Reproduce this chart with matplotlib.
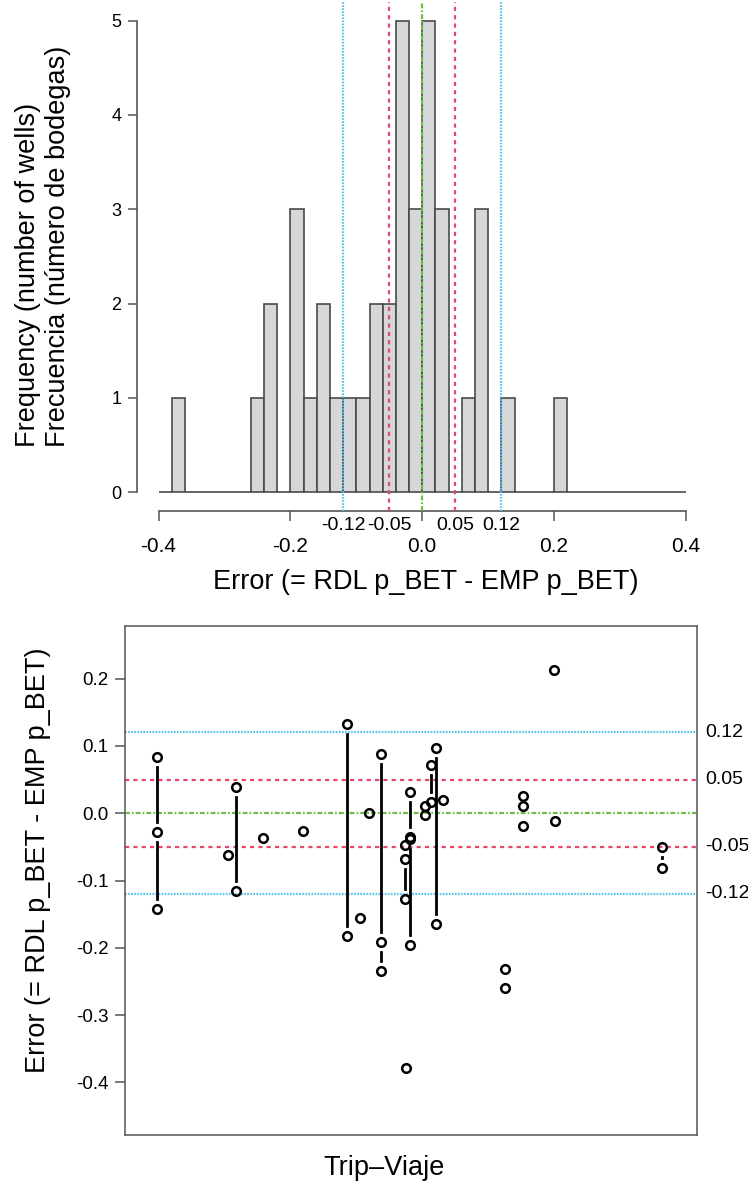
import numpy as np
import matplotlib
matplotlib.use("Agg")
import matplotlib.pyplot as plt
import matplotlib.transforms as mtransforms

plt.rcParams['font.family'] = ['Liberation Sans', 'DejaVu Sans']
plt.rcParams['axes.unicode_minus'] = False
plt.rcParams['lines.scale_dashes'] = False

# each trip: x position along the trip axis and the errors measured on it
trip_x = [5.54, 18.06, 19.41, 24.07, 31.12, 38.76, 41.14, 42.6, 44.76, 49.0, 49.07,
          49.83, 52.45, 53.44, 54.37, 55.65, 66.43, 69.53, 75.0, 75.23, 93.93]
trip_err = [
    [0.084, -0.028, -0.142],
    [-0.062],
    [0.039, -0.115],
    [-0.037],
    [-0.026],
    [0.133, -0.182],
    [-0.155],
    [0.001],
    [0.088, -0.191, -0.235],
    [-0.047, -0.068, -0.128],
    [-0.379],
    [0.031, -0.035, -0.038, -0.196],
    [0.010, -0.003],
    [0.071, 0.017],
    [0.097, -0.165],
    [0.019],
    [-0.232, -0.259],
    [0.026, 0.011, -0.019],
    [0.213],
    [-0.012],
    [-0.050, -0.082],
]

ref_vals = [-0.12, -0.05, 0.0, 0.05, 0.12]
ref_labels = ['-0.12', '-0.05', '', '0.05', '0.12']
hist_xticks = [-0.4, -0.2, 0.0, 0.2, 0.4]
hist_yticks = [0, 1, 2, 3, 4, 5]
err_yticks = [-0.4, -0.3, -0.2, -0.1, 0.0, 0.1, 0.2]

blue = '#55c3ee'
red = '#e8466a'
green = '#6cbf45'
line_style = {
    0.12: dict(color=blue, dashes=(1.2, 1.0)),
    0.05: dict(color=red, dashes=(3.0, 3.0)),
    0.0: dict(color=green, dashes=(3.5, 1.5, 1.2, 1.5)),
}

all_err = np.concatenate([np.array(e) for e in trip_err])
edges = np.round(np.arange(-0.4, 0.4001, 0.02), 2)

fig = plt.figure(figsize=(7.48, 11.85), dpi=100)

# ---- histogram
ax1 = fig.add_axes([0.1838, 0.5689, 0.7614, 0.4295])
ax1.hist(all_err, bins=edges, color='#d6d7d9', edgecolor='#4a4a4a', linewidth=1.2)
for v in ref_vals:
    st = line_style[abs(v)]
    ax1.axvline(v, lw=1.6, zorder=3, **st)
ax1.set_xlim(-0.432, 0.432)
ax1.set_ylim(-0.2, 5.2)
for s in ['top', 'right']:
    ax1.spines[s].set_visible(False)
ax1.spines['left'].set_bounds(0, 5)
ax1.spines['bottom'].set_bounds(-0.4, 0.4)
for s in ['left', 'bottom']:
    ax1.spines[s].set_color('#555555')
    ax1.spines[s].set_linewidth(1.2)
ax1.set_yticks(hist_yticks)
ax1.set_yticklabels([str(t) for t in hist_yticks])
ax1.set_xticks(hist_xticks)
ax1.set_xticklabels([f"{t:.1f}" for t in hist_xticks])
ax1.tick_params(axis='y', length=6.5, width=1.1, color='#555555', labelsize=13, pad=5)
ax1.tick_params(axis='x', length=7, width=1.1, color='#555555', labelsize=15, pad=12)
tr1 = mtransforms.blended_transform_factory(ax1.transData, ax1.transAxes)
for v, lab in zip(ref_vals, ref_labels):
    if lab:
        ax1.text(v, -0.012, lab, transform=tr1, ha='center', va='top', fontsize=14)

fig.text(426 / 748, 1 - 582 / 1185, 'Error (= RDL p_BET - EMP p_BET)',
         ha='center', va='center', fontsize=19.5)
fig.text(28 / 748, 1 - 447 / 1185, 'Frequency (number of wells)', rotation=90,
         ha='center', va='bottom', fontsize=19.5)
fig.text(58 / 748, 1 - 447 / 1185, 'Frecuencia (número de bodegas)', rotation=90,
         ha='center', va='bottom', fontsize=19.5)

# ---- errors by trip
ax2 = fig.add_axes([0.1671, 0.0422, 0.7647, 0.4295])
ax2.set_xlim(0, 100)
ax2.set_ylim(-0.478, 0.278)
for v in ref_vals:
    st = line_style[abs(v)]
    ax2.axhline(v, lw=1.6, zorder=1, **st)

px_per_unit = ax2.transData.transform((0, 1))[1] - ax2.transData.transform((0, 0))[1]
gap = 10 / px_per_unit
for x, errs in zip(trip_x, trip_err):
    for a, b in zip(errs[:-1], errs[1:]):
        hi, lo = max(a, b), min(a, b)
        if hi - lo > 2 * gap:
            ax2.plot([x, x], [hi - gap, lo + gap], color='black', lw=2.0, zorder=2)
    ax2.plot([x] * len(errs), errs, 'o', mfc='none', mec='black', ms=6.2, mew=1.8, zorder=3)

for s in ax2.spines.values():
    s.set_color('#555555')
    s.set_linewidth(1.1)
ax2.set_xticks([])
ax2.set_yticks(err_yticks)
ax2.set_yticklabels([f"{t:.1f}" for t in err_yticks])
ax2.tick_params(axis='y', length=7.5, width=1.1, color='#555555', labelsize=13.5, pad=4.5)
tr2 = mtransforms.blended_transform_factory(ax2.transAxes, ax2.transData)
for v, lab in zip(ref_vals, ref_labels):
    if lab:
        ax2.text(1.014, v, lab, transform=tr2, ha='left', va='center', fontsize=14)

fig.text(38 / 748, 1 - 860 / 1185, 'Error (= RDL p_BET - EMP p_BET)', rotation=90,
         ha='center', va='center', fontsize=19.5)
fig.text(384 / 748, 1 - 1168 / 1185, 'Trip\u2013Viaje', ha='center', va='center', fontsize=19.5)

fig.savefig('out.png', dpi=100)
